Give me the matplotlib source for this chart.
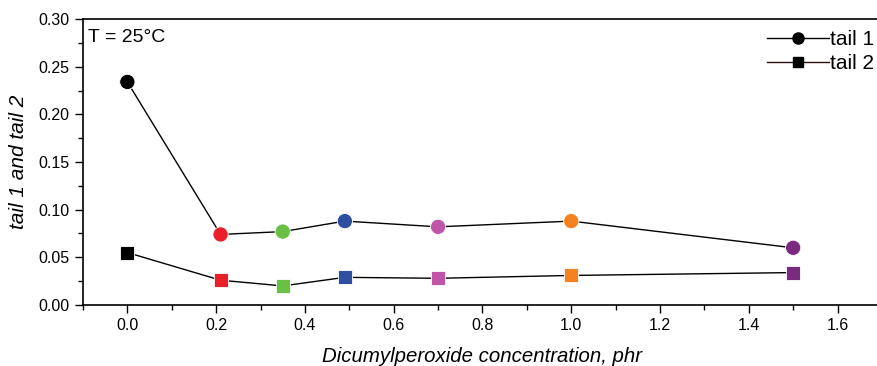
import numpy as np
import matplotlib
matplotlib.use('Agg')
import matplotlib.pyplot as plt
from matplotlib.ticker import MultipleLocator

plt.rcParams['font.family'] = ['Liberation Sans', 'DejaVu Sans']

# Данные
conc = [0.0, 0.21, 0.35, 0.49, 0.70, 1.0, 1.5]
tail1 = [0.234, 0.074, 0.077, 0.088, 0.082, 0.088, 0.060]
tail2 = [0.055, 0.026, 0.020, 0.029, 0.028, 0.031, 0.034]
colors = ['#000000', '#e8202a', '#6abf45', '#2e4fa0', '#c055a8', '#f58220', '#7b2a82']

fig = plt.figure(figsize=(8.78, 3.66), dpi=100)
ax = fig.add_axes([0.0945, 0.1667, 0.91, 0.7813])

# линии
ax.plot(conc, tail1, color='black', lw=1.0, zorder=1)
ax.plot(conc, tail2, color='black', lw=1.0, zorder=1)
# маркеры разных цветов
ax.scatter(conc, tail1, s=120, c=colors, marker='o', edgecolors='white', linewidths=0.6, zorder=3)
ax.scatter(conc, tail2, s=100, c=colors, marker='s', edgecolors='white', linewidths=0.6, zorder=3)

# легенда
h1, = ax.plot([], [], color='black', lw=1.0, marker='o', markersize=8, label='tail 1')
h2, = ax.plot([], [], color='#2a1010', lw=1.0, marker='s', markersize=7, markerfacecolor='black',
              markeredgecolor='black', label='tail 2')
ax.legend(handles=[h1, h2], loc='upper right', bbox_to_anchor=(1.006, 1.005), frameon=False,
          fontsize=15, handlelength=3.0, handletextpad=0.05, borderaxespad=0.2, labelspacing=0.25)

ax.text(0.006, 0.965, 'T = 25°C', transform=ax.transAxes, fontsize=14, va='top', ha='left')

ax.set_xlim(-0.1, 1.7)
ax.set_ylim(0.0, 0.30)
ax.xaxis.set_major_locator(MultipleLocator(0.2))
ax.xaxis.set_minor_locator(MultipleLocator(0.1))
ax.yaxis.set_major_locator(MultipleLocator(0.05))
ax.yaxis.set_minor_locator(MultipleLocator(0.025))
ax.xaxis.set_major_formatter(plt.FuncFormatter(lambda v, p: f'{v:.1f}'))
ax.yaxis.set_major_formatter(plt.FuncFormatter(lambda v, p: f'{v:.2f}'))
ax.tick_params(which='major', direction='out', length=6, width=1.0, labelsize=11.5)
ax.tick_params(which='minor', direction='out', length=3.5, width=1.0)
ax.spines['right'].set_visible(False)
for s in ['left', 'bottom', 'top']:
    ax.spines[s].set_linewidth(1.2)

ax.set_xlabel('Dicumylperoxide concentration, phr', fontsize=14.7, style='italic', labelpad=10)
ax.set_ylabel('tail 1 and tail 2', fontsize=15, style='italic', labelpad=8)

plt.savefig('out.png', dpi=100)
